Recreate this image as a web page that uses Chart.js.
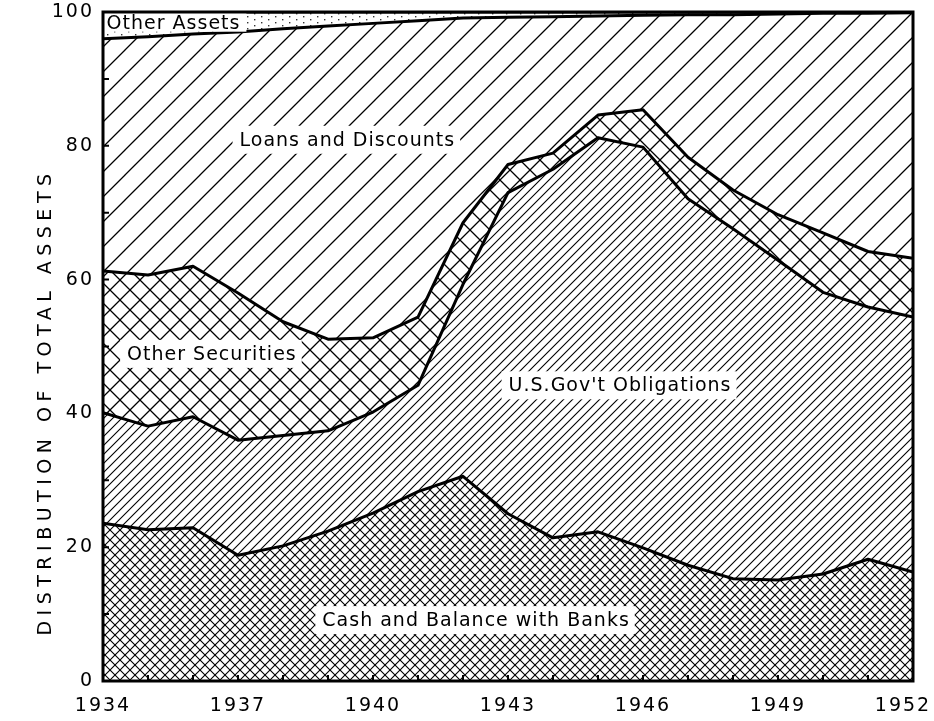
<!DOCTYPE html>
<html>
<head>
<meta charset="utf-8">
<script src="https://cdn.jsdelivr.net/npm/chart.js@4.4.1/dist/chart.umd.min.js"></script>
<style>
    html, body { margin: 0; padding: 0; background: #fff; }
    #assetChart { display: block; }
</style>
</head>
<body>
<canvas id="assetChart" width="934" height="721"></canvas>
<script>
// data (percent of total assets, each layer's own share)
var years = [1934, 1935, 1936, 1937, 1938, 1939, 1940, 1941, 1942, 1943, 1944, 1945, 1946, 1947, 1948, 1949, 1950, 1951, 1952];
var cashShare = [23.6, 22.6, 22.9, 18.8, 20.2, 22.4, 25.1, 28.3, 30.6, 25.0, 21.4, 22.3, 19.9, 17.3, 15.3, 15.1, 16.0, 18.2, 16.3];
var govShare = [16.5, 15.5, 16.6, 17.2, 16.5, 15.0, 15.1, 15.9, 28.7, 48.0, 55.1, 58.9, 59.9, 54.8, 52.3, 47.8, 42.1, 37.7, 38.1];
var otherSecShare = [21.2, 22.6, 22.5, 22.0, 17.0, 13.7, 11.1, 10.2, 9.2, 4.2, 2.4, 3.4, 5.6, 6.2, 5.8, 6.8, 8.9, 8.3, 8.8];
var loanShare = [34.7, 35.6, 34.7, 39.0, 43.8, 46.8, 47.0, 44.3, 30.6, 22.0, 20.4, 14.8, 14.1, 21.3, 26.2, 30.0, 32.8, 35.6, 36.7];
var otherAssetShare = [4.0, 3.7, 3.3, 3.0, 2.5, 2.1, 1.7, 1.3, 0.9, 0.8, 0.7, 0.6, 0.5, 0.4, 0.4, 0.3, 0.2, 0.2, 0.1];

var xTickYears = [1934, 1937, 1940, 1943, 1946, 1949, 1952];
var yTickValues = [0, 20, 40, 60, 80, 100];
var yMinorValues = [10, 30, 50, 70, 90];

var fontFamily = "DejaVu Sans";

// text placed on the areas, in data units
var areaLabels = [
    { text: "Other Assets", x: 1934.08, y: 98.4, align: "left" },
    { text: "Loans and Discounts", x: 1939.43, y: 80.9, align: "center" },
    { text: "Other Securities", x: 1936.42, y: 48.9, align: "center" },
    { text: "U.S.Gov't Obligations", x: 1945.49, y: 44.2, align: "center" },
    { text: "Cash and Balance with Banks", x: 1942.29, y: 9.1, align: "center" },
];

// hatch patterns
function makeHatch(size, lineWidth, slash, backslash) {
    let c = document.createElement("canvas");
    c.width = size;
    c.height = size;
    let g = c.getContext("2d");
    g.fillStyle = "#fff";
    g.fillRect(0, 0, size, size);
    g.strokeStyle = "#000";
    g.lineWidth = lineWidth;
    g.lineCap = "square";
    if (slash) {
        g.beginPath();
        g.moveTo(-1, size + 1);
        g.lineTo(size + 1, -1);
        g.moveTo(-2, 2);
        g.lineTo(2, -2);
        g.moveTo(size - 2, size + 2);
        g.lineTo(size + 2, size - 2);
        g.stroke();
    }
    if (backslash) {
        g.beginPath();
        g.moveTo(-1, -1);
        g.lineTo(size + 1, size + 1);
        g.moveTo(size - 2, -2);
        g.lineTo(size + 2, 2);
        g.moveTo(-2, size - 2);
        g.lineTo(2, size + 2);
        g.stroke();
    }
    return g.createPattern(c, "repeat");
}

function makeDots() {
    let c = document.createElement("canvas");
    c.width = 14;
    c.height = 6;
    let g = c.getContext("2d");
    g.fillStyle = "#fff";
    g.fillRect(0, 0, 14, 6);
    g.fillStyle = "#333";
    g.fillRect(2, 1, 1.4, 1.4);
    g.fillRect(9, 4, 1.4, 1.4);
    return g.createPattern(c, "repeat");
}

function layer(label, values, pattern, fill) {
    return {
        label: label,
        data: years.map(function (yr, i) {
            return { x: yr, y: values[i] };
        }),
        backgroundColor: pattern,
        borderColor: "#000",
        borderWidth: 3,
        borderJoinStyle: "round",
        pointRadius: 0,
        tension: 0,
        fill: fill,
    };
}

var framePlugin = {
    id: "frame",
    beforeDraw: function (chart) {
        chart.ctx.letterSpacing = "2px";
        // keep the last year label inside the canvas, as in the print
        let items = chart.scales.x.getLabelItems(chart.chartArea);
        if (items.length) {
            items[items.length - 1].options.translation[0] -= 10;
        }
    },
    afterDatasetsDraw: function (chart) {
        let ctx = chart.ctx;
        let area = chart.chartArea;
        let xs = chart.scales.x;
        let ys = chart.scales.y;
        ctx.save();

        // white boxes and text on the areas
        ctx.font = "19px " + fontFamily;
        ctx.letterSpacing = "1px";
        ctx.textBaseline = "middle";
        areaLabels.forEach(function (lb) {
            let w = ctx.measureText(lb.text).width;
            let px = xs.getPixelForValue(lb.x);
            let py = ys.getPixelForValue(lb.y);
            let left = lb.align === "left" ? px : px - w / 2;
            ctx.fillStyle = "#fff";
            if (lb.align === "left") {
                ctx.fillRect(area.left, py - 11, w + 6 + (left - area.left), 20);
            } else {
                ctx.fillRect(left - 7, py - 14, w + 12, 28);
            }
            ctx.fillStyle = "#000";
            ctx.textAlign = "left";
            ctx.fillText(lb.text, left, py + 1);
        });

        // frame
        ctx.strokeStyle = "#000";
        ctx.lineWidth = 3;
        ctx.strokeRect(area.left, area.top, area.right - area.left, area.bottom - area.top);

        // small inward ticks
        ctx.lineWidth = 2;
        ctx.beginPath();
        years.forEach(function (yr) {
            let px = xs.getPixelForValue(yr);
            ctx.moveTo(px, area.bottom);
            ctx.lineTo(px, area.bottom - 6);
        });
        yTickValues.concat(yMinorValues).forEach(function (v) {
            let py = ys.getPixelForValue(v);
            ctx.moveTo(area.left, py);
            ctx.lineTo(area.left + 6, py);
        });
        ctx.stroke();

        // axis title
        ctx.font = "19px " + fontFamily;
        ctx.letterSpacing = "5.5px";
        ctx.textAlign = "center";
        ctx.textBaseline = "middle";
        ctx.translate(46, 402);
        ctx.rotate(-Math.PI / 2);
        ctx.fillText("DISTRIBUTION OF TOTAL ASSETS", 0, 0);
        ctx.restore();
    },
};

var config_area = {
    type: "line",
    data: {
        datasets: [
            layer("Cash and Balance with Banks", cashShare, makeHatch(10, 1.1, true, true), "origin"),
            layer("U.S. Gov't Obligations", govShare, makeHatch(9, 1.1, true, false), "-1"),
            layer("Other Securities", otherSecShare, makeHatch(20, 1.3, true, true), "-1"),
            layer("Loans and Discounts", loanShare, makeHatch(25, 1.3, true, false), "-1"),
            layer("Other Assets", otherAssetShare, makeDots(), "-1"),
        ],
    },
    options: {
        responsive: false,
        animation: false,
        layout: {
            padding: { top: 12, right: 21, left: 0, bottom: 0 },
        },
        scales: {
            x: {
                type: "linear",
                min: 1934,
                max: 1952,
                grid: { display: false, drawTicks: false },
                border: { display: false },
                afterBuildTicks: function (scale) {
                    scale.ticks = xTickYears.map(function (v) {
                        return { value: v };
                    });
                },
                afterFit: function (scale) {
                    scale.height = 40;
                    scale.paddingLeft = 0;
                    scale.paddingRight = 0;
                },
                ticks: {
                    color: "#000",
                    padding: 14,
                    maxRotation: 0,
                    font: { family: fontFamily, size: 19 },
                    callback: function (v) {
                        return String(v);
                    },
                },
            },
            y: {
                stacked: true,
                min: 0,
                max: 100,
                grid: { display: false, drawTicks: false },
                border: { display: false },
                afterBuildTicks: function (scale) {
                    scale.ticks = yTickValues.map(function (v) {
                        return { value: v };
                    });
                },
                afterFit: function (scale) {
                    scale.width = 103;
                    scale.paddingTop = 0;
                    scale.paddingBottom = 0;
                },
                ticks: {
                    color: "#000",
                    padding: 9,
                    font: { family: fontFamily, size: 19 },
                },
            },
        },
        plugins: {
            legend: { display: false },
            tooltip: { enabled: false },
            filler: { drawTime: "beforeDatasetsDraw" },
        },
    },
    plugins: [framePlugin],
};

var assetChart = new Chart("assetChart", config_area);
</script>
</body>
</html>
